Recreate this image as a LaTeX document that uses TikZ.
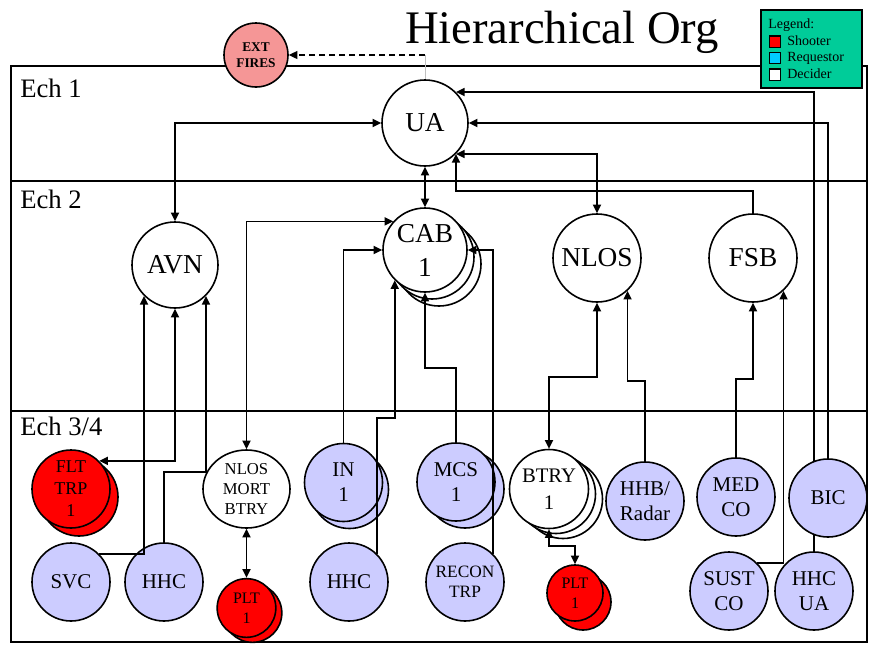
\documentclass[tikz,border=0pt]{standalone}
\usepackage{fontspec}
\setmainfont{Liberation Serif}
\usetikzlibrary{arrows.meta,shapes.geometric,calc}
\pgfdeclarelayer{under}
\pgfsetlayers{under,main}
\definecolor{req}{RGB}{204,204,255}
\definecolor{shoot}{RGB}{255,0,0}
\definecolor{extc}{RGB}{245,150,150}
\definecolor{leg}{RGB}{0,204,153}
\definecolor{reqsq}{RGB}{0,204,255}
\tikzset{
  big/.style={circle,draw,line width=1.2pt,fill=white,minimum size=64.5pt,inner sep=0pt,align=center,font=\fontsize{20.5}{25.5}\selectfont},
  mid/.style={circle,draw,line width=1.2pt,fill=req,minimum size=58.5pt,inner sep=0pt,align=center,font=\fontsize{15.75}{18.75}\selectfont},
  plt/.style={circle,draw,line width=1.2pt,fill=shoot,minimum size=44pt,inner sep=0pt,align=center,font=\fontsize{12}{15}\selectfont},
  ghost/.style={circle,draw,line width=1.2pt,inner sep=0pt},
  frame/.style={draw,line width=1.6pt},
  conn/.style={line width=1.3pt},
  arr/.style={conn,-{Triangle[length=6.5pt,width=6pt]}},
  darr/.style={conn,{Triangle[length=6.5pt,width=6pt]}-{Triangle[length=6.5pt,width=6pt]}},
  echlab/.style={anchor=base west,inner sep=0pt,font=\fontsize{20}{24}\selectfont},
  legtxt/.style={anchor=base west,inner sep=0pt,font=\fontsize{10.5}{12}\selectfont},
  legsq/.style={draw,line width=1pt,minimum size=8.5pt,inner sep=0pt}
}
\begin{document}
\begin{tikzpicture}[x=0.75pt,y=-0.75pt]
\useasboundingbox (0,0) rectangle (869,644);

% title and legend
\node[anchor=base,inner sep=0pt,font=\fontsize{35}{40}\selectfont] (T) at (562,43) {Hierarchical Org};
\node[draw,line width=1.3pt,fill=leg,minimum width=75.75pt,minimum height=58.5pt,inner sep=0pt] (LEG) at (811.5,49) {};
\node[legtxt] (LT) at (768,28) {Legend:};
\node[legsq,fill=shoot] (S1) at (775,41.5) {};
\node[legsq,fill=reqsq] (S2) at (775,58) {};
\node[legsq,fill=white] (S3) at (775,74.5) {};
\node[legtxt] (L1) at (787,45) {Shooter};
\node[legtxt] (L2) at (787,61) {Requestor};
\node[legtxt] (L3) at (787,78) {Decider};

% echelon labels
\node[echlab] (E1) at (20,97) {Ech 1};
\node[echlab] (E2) at (20,208) {Ech 2};
\node[echlab] (E3) at (20,435) {Ech 3/4};

% main nodes
\node[big] (UA) at (425,123) {UA};
\node[big,minimum size=63pt] (CAB) at (425,250) {CAB\\1};
\node[big] (AVN) at (175,265) {AVN};
\node[big,minimum size=66pt] (NLOS) at (597,258) {NLOS};
\node[big,minimum size=66pt] (FSB) at (753,258) {FSB};
\node[circle,draw,line width=1.2pt,fill=extc,minimum size=48pt,inner sep=0pt,align=center,font=\fontsize{10}{12}\selectfont\bfseries] (EXT) at (256,55) {EXT\\FIRES};

\node[mid,fill=shoot,font=\fontsize{13.5}{16.5}\selectfont] (FLT) at (71,489) {FLT\\TRP\\1};
\node[mid] (SVC) at (71,582) {SVC};
\node[mid] (HHC1) at (164,582) {HHC};
\node[ellipse,draw,line width=1.2pt,fill=white,minimum width=65.25pt,minimum height=58.5pt,inner sep=0pt,align=center,font=\fontsize{12.5}{15}\selectfont] (MORT) at (246.5,489) {NLOS\\MORT\\BTRY};
\node[plt] (PLTa) at (246.5,608) {PLT\\1};
\node[mid] (IN) at (343.5,482.5) {IN\\1};
\node[mid] (HHC2) at (349,582) {HHC};
\node[mid] (MCS) at (456,482) {MCS\\1};
\node[mid,font=\fontsize{13}{15}\selectfont] (RECON) at (465,582) {RECON\\TRP};
\node[mid,fill=white,minimum size=59.25pt,font=\fontsize{15.5}{20}\selectfont] (BTRY) at (549,489) {BTRY\\1};
\node[plt,minimum size=42pt] (PLTb) at (575,593) {PLT\\1};
\node[mid] (HHB) at (645,501) {HHB/\\Radar};
\node[mid] (MED) at (736,497) {MED\\CO};
\node[mid] (BIC) at (828,498) {BIC};
\node[mid] (SUST) at (729,591) {SUST\\CO};
\node[mid] (HHCUA) at (814,591) {HHC\\UA};

% bend levels
\coordinate (b191) at (0,191);
\coordinate (b368) at (0,368);
\coordinate (b377) at (0,377);
\coordinate (b379) at (0,379);
\coordinate (b381) at (0,381);
\coordinate (b418) at (0,418);
\coordinate (b472) at (0,472);
\coordinate (b546) at (0,546);
\coordinate (dsrc) at (425,55);

\begin{pgfonlayer}{under}
  \draw[frame] (11,66) rectangle (867,181);
  \draw[frame] (11,181) rectangle (867,411);
  \draw[frame] (11,411) rectangle (867,642);
  \node[ghost,fill=white,minimum size=63pt] (CABb2) at ($(CAB)+(14,14)$) {};
  \node[ghost,fill=white,minimum size=63pt] (CABb1) at ($(CAB)+(7,7)$) {};
  \node[ghost,fill=shoot,minimum size=58.5pt] (FLTb) at ($(FLT)+(8,8)$) {};
  \node[ghost,fill=shoot,minimum size=44pt] (PLTab) at ($(PLTa)+(6,5)$) {};
  \node[ghost,fill=req,minimum size=58.5pt] (INb) at ($(IN)+(6,7)$) {};
  \node[ghost,fill=req,minimum size=58.5pt] (MCSb) at ($(MCS)+(9,7)$) {};
  \node[ghost,fill=white,minimum size=59.25pt] (BTRYb2) at ($(BTRY)+(14,10)$) {};
  \node[ghost,fill=white,minimum size=59.25pt] (BTRYb1) at ($(BTRY)+(7,5)$) {};
  \node[ghost,fill=shoot,minimum size=42pt] (PLTbb) at ($(PLTb)+(8,9)$) {};
  \draw[arr] (HHCUA.north) |- (UA.45);
\end{pgfonlayer}

% connectors
\draw[gray!50,line width=0.5pt] (dsrc) -- (UA.north);
\draw[conn,line width=1.1pt,dashed,dash pattern=on 4.5pt off 3pt,-{Triangle[length=6.5pt,width=6pt]}] (dsrc) -- (EXT.east);
\draw[darr] (UA.west) -| (AVN.north);
\draw[darr] (UA.south) -- (CAB.north);
\draw[darr] (UA.315) -| (NLOS.north);
\draw[arr] (FSB.north) -- (FSB.north |- b191) -| (UA.315);
\draw[arr] (BIC.north) |- (UA.east);
\draw[darr] (AVN.south) |- (FLT.45);
\draw[arr] (SVC.45) -| (AVN.225);
\draw[arr] (HHC1.north) -- (HHC1.north |- b472) -| (AVN.315);
\draw[darr] (CAB.138) -| (MORT.north);
\draw[darr] (MORT.south) -- (PLTa.north);
\draw[arr] (IN.north) |- (CAB.west);
\draw[arr] (HHC2.45) -- (HHC2.45 |- b418) -| (CAB.225);
\draw[arr] (MCS.north) -- (MCS.north |- b368) -| (CAB.south);
\draw[arr] (RECON.45) |- (CAB.east);
\draw[darr] (NLOS.south) -- (NLOS.south |- b377) -| (BTRY.north);
\draw[darr] (BTRY.south) -- (BTRY.south |- b546) -| (PLTb.north);
\draw[arr] (HHB.north) -- (HHB.north |- b381) -| (NLOS.313);
\draw[arr] (MED.north) -- (MED.north |- b379) -| (FSB.south);
\draw[arr] (SUST.45) -| (FSB.313);
\end{tikzpicture}
\end{document}
